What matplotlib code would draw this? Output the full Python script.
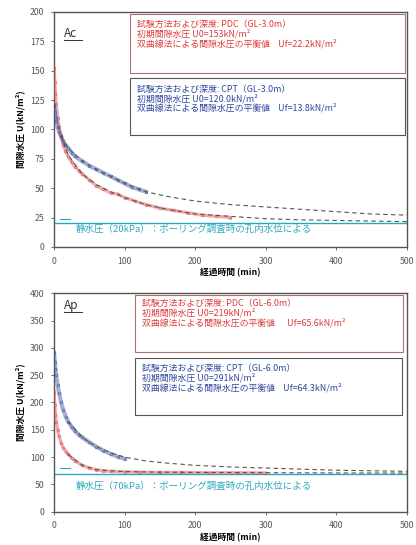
import matplotlib.pyplot as plt
from matplotlib.patches import Rectangle

plt.rcParams['font.family'] = ['Noto Sans CJK JP', 'DejaVu Sans']

# --- DATA: Ac (top) ---
ac_pdc_t = [0, 1, 2, 3, 5, 7, 10, 13, 16, 20, 25, 30, 35, 40, 50, 60, 70, 80, 90,
            100, 115, 130, 150, 170, 190, 210, 230, 250]
ac_pdc_u = [152, 140, 130, 122, 110, 102, 94, 87, 82, 77, 72, 68, 65, 62, 57, 52, 49,
            46, 45, 42, 39, 36, 33, 31, 29, 27, 26, 25]
ac_cpt_t = [0, 1, 2, 3, 5, 7, 10, 13, 16, 20, 25, 30, 40, 50, 60, 70, 80, 90, 100,
            110, 120, 130]
ac_cpt_u = [120, 115, 111, 107, 102, 98, 94, 90, 87, 84, 80, 77, 73, 69, 66, 63, 60,
            57, 54, 51, 49, 47]
ac_pdc_fit_t = [10, 20, 40, 60, 80, 100, 130, 160, 200, 250, 300, 350, 400, 450, 500]
ac_pdc_fit_u = [95, 78, 62, 53, 47, 42, 36, 32, 28, 26, 24, 23, 22.5, 22, 21.5]
ac_cpt_fit_t = [10, 20, 40, 60, 80, 100, 130, 160, 200, 250, 300, 350, 400, 450, 500]
ac_cpt_fit_u = [94, 84, 73, 66, 60, 54, 47, 43, 39, 36, 34, 32, 30, 28, 27]
ac_hydro = 20

# --- DATA: Ap (bottom) ---
ap_pdc_t = [0, 1, 2, 3, 5, 7, 10, 13, 17, 20, 25, 30, 40, 50, 60, 70, 80, 100, 120,
            150, 180, 220, 260, 300]
ap_pdc_u = [219, 195, 178, 165, 150, 138, 126, 117, 110, 105, 98, 93, 85, 80, 77, 75,
            74, 73, 72.5, 72, 72, 71.5, 71.5, 71]
ap_cpt_t = [0, 1, 2, 3, 5, 7, 10, 13, 17, 20, 25, 30, 35, 40, 50, 60, 70, 80, 90, 100]
ap_cpt_u = [291, 275, 262, 250, 232, 218, 200, 186, 173, 165, 155, 147, 141, 136, 127,
            119, 112, 106, 101, 97]
ap_pdc_fit_t = [20, 40, 60, 80, 100, 150, 200, 300, 400, 500]
ap_pdc_fit_u = [105, 85, 77, 75, 73.5, 72.5, 72, 71.5, 71, 70.8]
ap_cpt_fit_t = [20, 40, 60, 80, 100, 130, 160, 200, 250, 300, 350, 400, 450, 500]
ap_cpt_fit_u = [165, 136, 119, 108, 100, 93, 89, 85, 82, 80, 78, 76, 75, 74]
ap_hydro = 69

x_ticks = [0, 100, 200, 300, 400, 500]
ac_y_ticks = [0, 25, 50, 75, 100, 125, 150, 175, 200]
ap_y_ticks = [0, 50, 100, 150, 200, 250, 300, 350, 400]

ac_red_text = ['試験方法および深度: PDC（GL-3.0m）',
               '初期間隙水圧 U0=153kN/m²',
               '双曲線法による間隙水圧の平衡値    Uf=22.2kN/m²']
ac_blue_text = ['試験方法および深度: CPT（GL-3.0m）',
                '初期間隙水圧 U0=120.0kN/m²',
                '双曲線法による間隙水圧の平衡値    Uf=13.8kN/m²']
ap_red_text = ['試験方法および深度: PDC（GL-6.0m）',
               '初期間隙水圧 U0=219kN/m²',
               '双曲線法による間隙水圧の平衡値      Uf=65.6kN/m²']
ap_blue_text = ['試験方法および深度: CPT（GL-6.0m）',
                '初期間隙水圧 U0=291kN/m²',
                '双曲線法による間隙水圧の平衡値    Uf=64.3kN/m²']
ac_hydro_text = '静水圧（20kPa）：ボーリング調査時の孔内水位による'
ap_hydro_text = '静水圧（70kPa）：ボーリング調査時の孔内水位による'

RED = '#e04848'
BLUE = '#3a4f9c'
CYAN = '#2aa8c0'
DASH = '#555555'
TXT_RED = '#e03a3a'
TXT_BLUE = '#2f48a0'

fig = plt.figure(figsize=(4.16, 5.45), dpi=100)
fig.patch.set_facecolor('white')


def draw_panel(ax, pdc_t, pdc_u, cpt_t, cpt_u, pfit_t, pfit_u, cfit_t, cfit_u,
               hydro, ylim, yticks, label, red_text, blue_text, hydro_text,
               boxes, text_y, hydro_y, mark_y, label_y):
    ax.set_xlim(0, 500)
    ax.set_ylim(*ylim)
    ax.set_xticks(x_ticks)
    ax.set_yticks(yticks)
    ax.tick_params(labelsize=6.3, colors='#555555', length=2, width=0.6, pad=5)
    for s in ax.spines.values():
        s.set_color('#555555')
        s.set_linewidth(1.0)

    # hydrostatic line
    ax.axhline(hydro, color=CYAN, lw=1.0, zorder=2)
    ax.plot([8, 22], [mark_y, mark_y], color=CYAN, lw=0.8)

    # measured data (dense bands)
    ax.plot(pdc_t, pdc_u, color=RED, lw=2.4, alpha=0.45, zorder=3)
    ax.plot(pdc_t, pdc_u, 'o', ms=1.8, mfc='none', mec=RED, mew=0.5, alpha=0.8, zorder=3)
    ax.plot(cpt_t, cpt_u, color=BLUE, lw=3.0, alpha=0.45, zorder=3)
    ax.plot(cpt_t, cpt_u, 'o', ms=1.8, mfc='none', mec=BLUE, mew=0.5, alpha=0.8, zorder=3)

    # hyperbolic fits
    ax.plot(pfit_t, pfit_u, ls=(0, (4, 3)), color=DASH, lw=0.8, zorder=4)
    ax.plot(cfit_t, cfit_u, ls=(0, (4, 3)), color=DASH, lw=0.8, zorder=4)

    # info boxes
    (rx0, ry0, rx1, ry1), (bx0, by0, bx1, by1) = boxes
    ax.add_patch(Rectangle((rx0, ry0), rx1 - rx0, ry1 - ry0, transform=ax.transAxes,
                           fill=False, ec='#b07070', lw=0.8, zorder=5))
    ax.add_patch(Rectangle((bx0, by0), bx1 - bx0, by1 - by0, transform=ax.transAxes,
                           fill=False, ec='#555555', lw=0.8, zorder=5))
    for s, y in zip(red_text, text_y[0]):
        ax.text(rx0 + 0.02, y, s, transform=ax.transAxes, fontsize=6.4,
                color=TXT_RED, va='center', ha='left')
    for s, y in zip(blue_text, text_y[1]):
        ax.text(bx0 + 0.02, y, s, transform=ax.transAxes, fontsize=6.4,
                color=TXT_BLUE, va='center', ha='left')

    ax.text(0.06, hydro_y, hydro_text, transform=ax.transAxes, fontsize=6.8,
            color=CYAN, va='center', ha='left')

    ax.text(0.028, label_y, label, transform=ax.transAxes, fontsize=8.5,
            color='#333333', va='center', ha='left')
    ax.plot([0.028, 0.08], [label_y - 0.03, label_y - 0.03], transform=ax.transAxes,
            color='#333333', lw=0.7)

    ax.set_ylabel('間隙水圧 U(kN/m²)', fontsize=6.3, fontweight='bold', labelpad=3)
    ax.set_xlabel('経過時間 (min)', fontsize=6.3, fontweight='bold', labelpad=2)


ax1 = fig.add_axes([0.130, 0.547, 0.848, 0.431])
draw_panel(ax1, ac_pdc_t, ac_pdc_u, ac_cpt_t, ac_cpt_u, ac_pdc_fit_t, ac_pdc_fit_u,
           ac_cpt_fit_t, ac_cpt_fit_u, ac_hydro, (0, 200), ac_y_ticks, 'Ac',
           ac_red_text, ac_blue_text, ac_hydro_text,
           ((0.215, 0.740, 0.994, 0.991), (0.215, 0.477, 0.994, 0.719)),
           ([0.945, 0.907, 0.866], [0.672, 0.632, 0.592]), 0.075, 24, 0.91)

ax2 = fig.add_axes([0.130, 0.061, 0.848, 0.401])
draw_panel(ax2, ap_pdc_t, ap_pdc_u, ap_cpt_t, ap_cpt_u, ap_pdc_fit_t, ap_pdc_fit_u,
           ap_cpt_fit_t, ap_cpt_fit_u, ap_hydro, (0, 400), ap_y_ticks, 'Ap',
           ap_red_text, ap_blue_text, ap_hydro_text,
           ((0.229, 0.731, 0.99, 0.991), (0.229, 0.443, 0.985, 0.703)),
           ([0.954, 0.911, 0.866], [0.658, 0.612, 0.566]), 0.115, 80, 0.945)

fig.savefig('out.png', dpi=100)
